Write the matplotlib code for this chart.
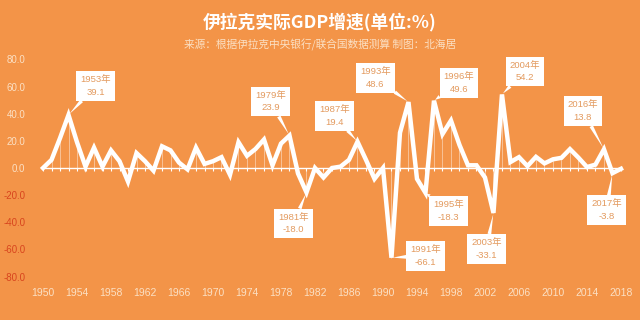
import matplotlib
matplotlib.use("Agg")
import matplotlib.pyplot as plt
import numpy as np

years = list(range(1950, 2019))
growth = [0, 6, 22, 39.1, 19, 1, 15, 1, 13, 5,
          -10, 11, 5, -2, 16, 13, 4, -1, 15, 3,
          5, 8, -5, 19, 9, 14, 21, 2, 18, 23.9,
          -4, -18.0, 0, -7, 0, 1, 6, 19.4, 6, -8,
          0, -66.1, 26, 48.6, -8, -18.3, 49.6, 25, 35, 17,
          2, 2, -7, -33.1, 54.2, 4.4, 8, 1.4, 8.2, 3.4,
          6.4, 7.5, 13.9, 7.6, 0.7, 2.5, 13.8, -3.8, -0.6]

label_years = [1953, 1979, 1981, 1987, 1993, 1991, 1995, 1996, 2003, 2004, 2016, 2017]
# box offsets in pixels (dx, dy) from point to box centre
label_offsets_px = [(27, 29), (-19, 34), (-13, -31), (-23, 26), (-33, 24), (34, 2),
                    (23, -18), (25, 18), (-7, -36), (23, 23), (-21, 38), (-6, -37)]

xticks = list(range(1950, 2019, 4))
yticks = [-80, -60, -40, -20, 0, 20, 40, 60, 80]

BG = '#F39448'
CREAM = '#FBE0C4'
NEG = '#D8451E'
BOXTXT = '#E39A5E'

fig = plt.figure(figsize=(6.4, 3.2), dpi=100, facecolor=BG)
ax = fig.add_axes([38/640, (320-282)/320, (627-38)/640, 228/320])
ax.set_facecolor(BG)
ax.set_xlim(1949.41, 2018.71)
ax.set_ylim(-84, 84)
for s in ax.spines.values():
    s.set_visible(False)

# stems
ax.vlines(years, 0, growth, colors='white', lw=0.6, alpha=0.5, zorder=2)
# zero line
ax.plot([years[0], years[-1]], [0, 0], color='white', lw=1.0, zorder=2)
ax.plot(years, np.zeros(len(years)), ls='none', marker=3, ms=2.5, mew=0.8,
        color='white', zorder=2)
# main line
ax.plot(years, growth, color='white', lw=3.2, solid_joinstyle='miter', zorder=3)

ax.set_xticks(xticks)
ax.set_xticklabels([str(y) for y in xticks], family='Liberation Sans', fontsize=7.5, color=CREAM)
ax.set_yticks(yticks)
ax.set_yticklabels([f'{v:.1f}' for v in yticks], family='Liberation Sans', fontsize=7)
for lab, v in zip(ax.get_yticklabels(), yticks):
    lab.set_color(NEG if v < 0 else CREAM)
ax.tick_params(axis='both', length=0)
ax.tick_params(axis='y', pad=9)
ax.tick_params(axis='x', pad=4)

for yr, (dx, dy) in zip(label_years, label_offsets_px):
    v = growth[years.index(yr)]
    ax.annotate(f'{yr}年\n{v:.1f}', xy=(yr, v), xytext=(dx*0.72, dy*0.72),
                textcoords='offset points', ha='center', va='center',
                fontsize=6.8, color=BOXTXT, family=['Liberation Sans', 'Noto Sans CJK SC'],
                linespacing=1.55,
                bbox=dict(boxstyle='square,pad=0.42', fc='white', ec='none'),
                arrowprops=dict(arrowstyle='wedge,tail_width=0.4,shrink_factor=0.5',
                                fc='white', ec='none', shrinkA=0, shrinkB=1),
                zorder=5)

fig.text(0.5, 1 - 22/320, '伊拉克实际GDP增速(单位:%)', ha='center', va='center',
         fontsize=12.8, fontweight='bold', color='white', family=['Noto Sans CJK SC', 'DejaVu Sans'])
fig.text(0.5, 1 - 45/320, '来源：根据伊拉克中央银行/联合国数据测算 制图：北海居', ha='center', va='center',
         fontsize=7.7, color=CREAM, family=['Noto Sans CJK SC', 'DejaVu Sans'])

fig.savefig('out.png', dpi=100, facecolor=BG)
